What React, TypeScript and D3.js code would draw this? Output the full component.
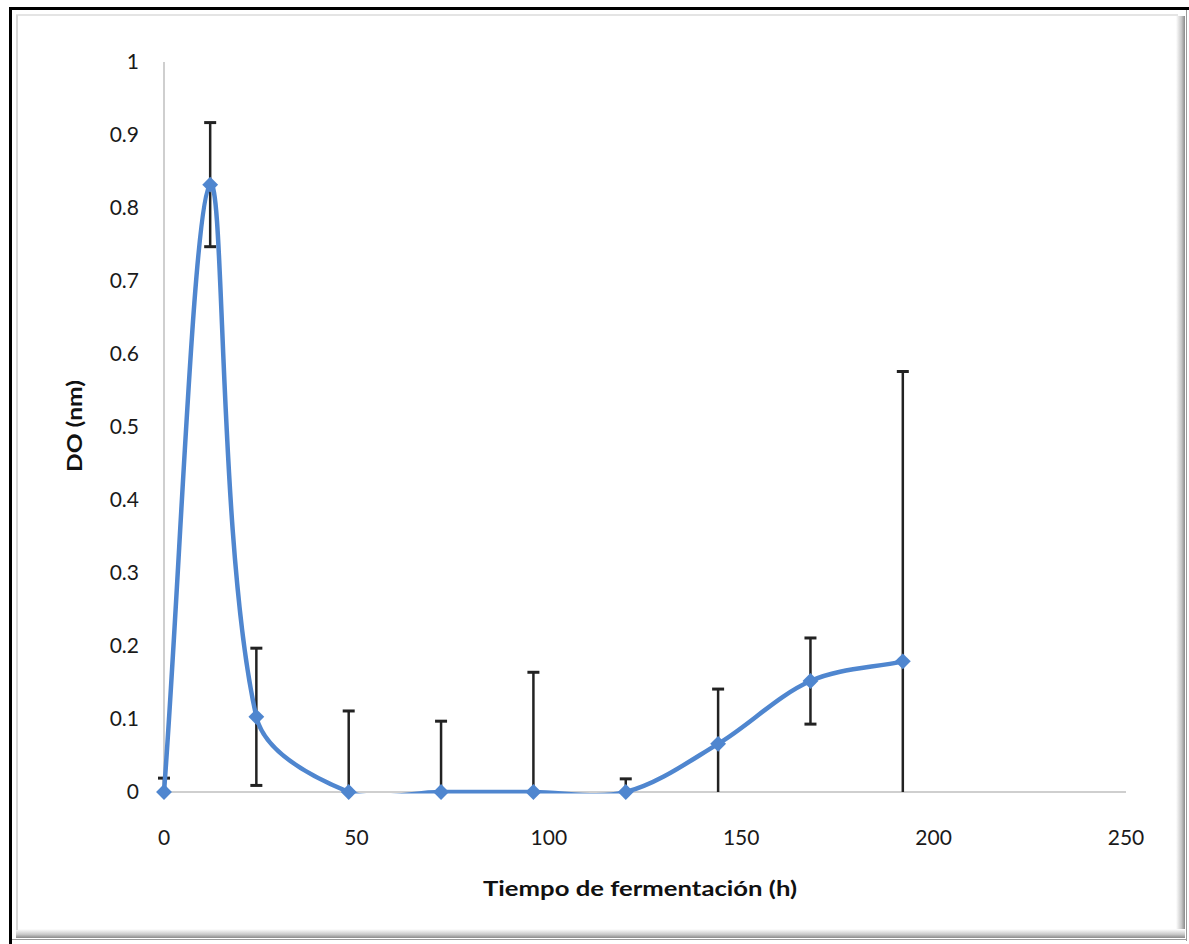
import React from "react";
import * as d3 from "d3";

const hours = [0, 12, 24, 48, 72, 96, 120, 144, 168, 192];
const doValues = [0, 0.832, 0.103, 0, 0, 0, 0, 0.066, 0.152, 0.179];
const errValues = [0.019, 0.085, 0.094, 0.111, 0.097, 0.164, 0.018, 0.075, 0.059, 0.397];
const xTicks = [0, 50, 100, 150, 200, 250];
const yTicks = [0, 0.1, 0.2, 0.3, 0.4, 0.5, 0.6, 0.7, 0.8, 0.9, 1];

const W = 1189;
const H = 944;
const FONT = "Lato, 'Open Sans', sans-serif";
const BLUE = "#4f86cf";

// Excel-style smoothed line: Bezier control points scaled by neighbouring segment lengths
function smoothPath(p: [number, number][]): string {
  const path = d3.path();
  const n = p.length;
  const dist = (a: [number, number], b: [number, number]) => Math.hypot(b[0] - a[0], b[1] - a[1]);
  path.moveTo(p[0][0], p[0][1]);
  for (let i = 0; i < n - 1; i++) {
    const p0 = p[Math.max(0, i - 1)];
    const p1 = p[i];
    const p2 = p[i + 1];
    const p3 = p[Math.min(n - 1, i + 2)];
    const d01 = dist(p0, p1);
    const d12 = dist(p1, p2);
    const d23 = dist(p2, p3);
    const f1 = d12 / (d01 + d12 || 1) / 3;
    const f2 = d12 / (d12 + d23 || 1) / 3;
    const c1x = p1[0] + (p2[0] - p0[0]) * f1;
    const c1y = p1[1] + (p2[1] - p0[1]) * f1;
    const c2x = p2[0] - (p3[0] - p1[0]) * f2;
    const c2y = p2[1] - (p3[1] - p1[1]) * f2;
    path.bezierCurveTo(c1x, c1y, c2x, c2y, p2[0], p2[1]);
  }
  return path.toString();
}

export default function App() {
  const x = d3.scaleLinear().domain([0, 250]).range([164, 1126]);
  const y = d3.scaleLinear().domain([0, 1]).range([792, 62]);
  const pts = hours.map((h, i) => ({ h, v: doValues[i], e: errValues[i] }));
  const clamp = (v: number) => Math.max(0, Math.min(1, v));
  const diamond = d3.symbol().type(d3.symbolDiamond2).size(160)();
  const linePath = smoothPath(pts.map((p) => [x(p.h), y(p.v)] as [number, number]));

  return (
    <svg
      width={W}
      height={H}
      style={{ position: "absolute", left: 0, top: 0, background: "#fff" }}
    >
      <defs>
        <linearGradient id="shR" x1="0" x2="1" y1="0" y2="0">
          <stop offset="0" stopColor="#ffffff" />
          <stop offset="0.6" stopColor="#c8c8c8" />
          <stop offset="1" stopColor="#8a8a8a" />
        </linearGradient>
        <linearGradient id="shB" x1="0" x2="0" y1="0" y2="1">
          <stop offset="0" stopColor="#ffffff" />
          <stop offset="0.6" stopColor="#c8c8c8" />
          <stop offset="1" stopColor="#8a8a8a" />
        </linearGradient>
        <clipPath id="plotClip">
          <rect x={150} y={40} width={990} height={792 + 1.5 - 40} />
        </clipPath>
      </defs>
      {/* frame */}
      <rect x={0} y={0} width={W} height={H} fill="#fff" />
      <rect x={1176} y={16} width={9} height={922} fill="url(#shR)" />
      <rect x={16} y={929} width={1169} height={9} fill="url(#shB)" />
      <line x1={16} y1={15} x2={1178} y2={15} stroke="#e4e4e4" strokeWidth={2} />
      <line x1={17} y1={15} x2={17} y2={930} stroke="#d8d8d8" strokeWidth={2} />
      <line x1={1186.5} y1={10} x2={1186.5} y2={941} stroke="#9a9a9a" strokeWidth={1} />
      <line x1={10} y1={939.5} x2={1187} y2={939.5} stroke="#9a9a9a" strokeWidth={1} />
      <line x1={9} y1={8.5} x2={W} y2={8.5} stroke="#000" strokeWidth={3} />
      <line x1={10.5} y1={7} x2={10.5} y2={H} stroke="#000" strokeWidth={3} />

      {/* axes */}
      <line x1={x(0)} y1={y(1)} x2={x(0)} y2={y(0)} stroke="#bfbfbf" strokeWidth={1.5} />
      <line x1={x(0)} y1={y(0)} x2={x(250)} y2={y(0)} stroke="#bfbfbf" strokeWidth={1.5} />

      {yTicks.map((t) => (
        <text
          key={"y" + t}
          x={139}
          y={y(t)}
          dy="0.35em"
          textAnchor="end"
          fontFamily={FONT}
          fontSize={21}
          fill="#1a1a1a"
        >
          {String(t)}
        </text>
      ))}
      {xTicks.map((t) => (
        <text
          key={"x" + t}
          x={x(t)}
          y={838}
          dy="0.35em"
          textAnchor="middle"
          fontFamily={FONT}
          fontSize={21}
          fill="#1a1a1a"
        >
          {String(t)}
        </text>
      ))}
      <text
        x={640}
        y={896}
        textAnchor="middle"
        fontFamily={FONT}
        fontWeight="bold"
        fontSize={21}
        textLength={314}
        lengthAdjust="spacingAndGlyphs"
        fill="#111"
      >
        Tiempo de fermentación (h)
      </text>
      <text
        transform={`translate(82,426) rotate(-90)`}
        textAnchor="middle"
        fontFamily={FONT}
        fontWeight="bold"
        fontSize={21}
        textLength={92}
        lengthAdjust="spacingAndGlyphs"
        fill="#111"
      >
        DO (nm)
      </text>

      {/* error bars */}
      <g stroke="#222" strokeWidth={2.5}>
        {pts.map((p) => {
          const hi = p.v + p.e;
          const lo = p.v - p.e;
          const cx = x(p.h);
          return (
            <g key={"e" + p.h}>
              <line x1={cx} x2={cx} y1={y(clamp(hi))} y2={y(clamp(lo))} />
              {hi <= 1 && <line x1={cx - 6} x2={cx + 6} y1={y(hi)} y2={y(hi)} strokeWidth={3} />}
              {lo >= 0 && <line x1={cx - 6} x2={cx + 6} y1={y(lo)} y2={y(lo)} strokeWidth={3} />}
            </g>
          );
        })}
      </g>

      {/* line */}
      <g clipPath="url(#plotClip)">
        <path d={linePath} fill="none" stroke={BLUE} strokeWidth={4.5} />
      </g>
      {pts.map((p) => (
        <path
          key={"m" + p.h}
          d={diamond || ""}
          transform={`translate(${x(p.h)},${y(p.v)})`}
          fill={BLUE}
        />
      ))}
    </svg>
  );
}
